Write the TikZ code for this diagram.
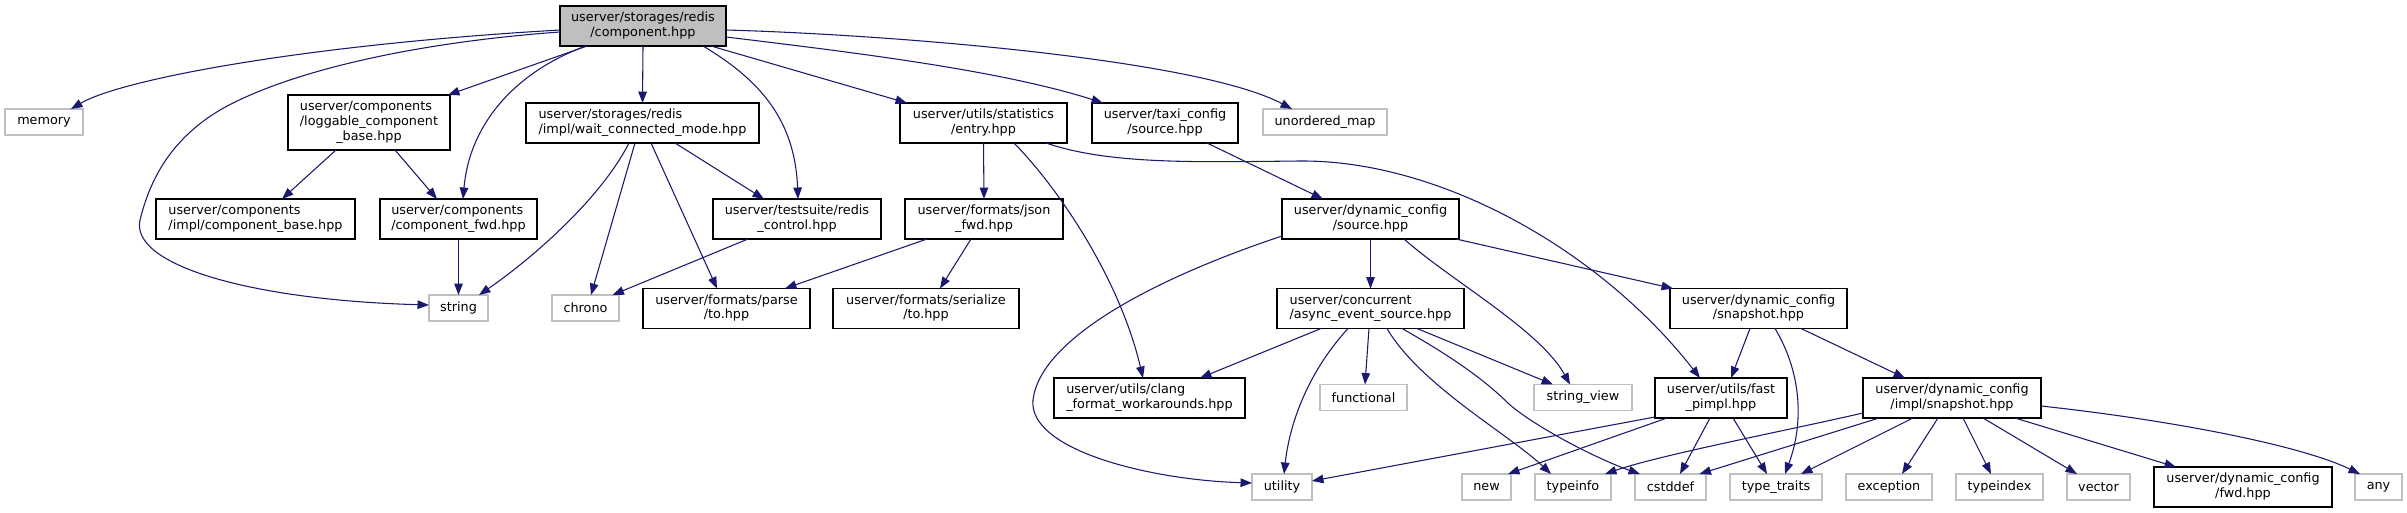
\documentclass[tikz,border=0pt]{standalone}
\usepackage{fontspec}
\setmainfont{DejaVu Sans}
\usetikzlibrary{arrows.meta,calc}
\definecolor{edgecol}{HTML}{191970}
\definecolor{rootfill}{HTML}{BFBFBF}
\definecolor{extline}{HTML}{BFBFBF}
\newcommand{\twol}[2]{\begin{tabular}{@{}l@{}}#1\\\multicolumn{1}{@{}c@{}}{#2}\end{tabular}}
\newcommand{\threel}[3]{\begin{tabular}{@{}l@{}}#1\\#2\\\multicolumn{1}{@{}c@{}}{#3}\end{tabular}}
\begin{document}
\begin{tikzpicture}[x=0.75pt,y=-0.75pt,
  boxsize/.style 2 args={minimum width=#1*0.75pt, minimum height=#2*0.75pt},
  base/.style={inner sep=0pt, outer sep=0pt, font=\fontsize{9.6}{11.2}\selectfont, line width=0.9pt},
  doc/.style={base, draw=black, fill=white},
  root/.style={base, draw=black, fill=rootfill},
  ext/.style={base, draw=extline, fill=white},
  dep/.style={draw=edgecol, line width=0.8pt, -{Triangle[length=8.6pt,width=6.4pt]}}]
\fill[white] (0,0) rectangle (2407,513);
\useasboundingbox (0,0) rectangle (2407,513);
% row 1
\node[root, boxsize={166}{40}] (A) at (643,26) {\twol{userver/storages/redis}{/component.hpp}};
% row 2
\node[ext, boxsize={78}{26}] (mem) at (44,122) {memory};
\node[doc, boxsize={162}{55}] (logg) at (369,122.5) {\threel{userver/components}{/loggable\_component}{\_base.hpp}};
\node[doc, boxsize={233}{40}] (wait) at (642.5,123) {\twol{userver/storages/redis}{/impl/wait\_connected\_mode.hpp}};
\node[doc, boxsize={167}{40}] (entry) at (983.5,123) {\twol{userver/utils/statistics}{/entry.hpp}};
\node[doc, boxsize={146}{40}] (taxi) at (1165,123) {\twol{userver/taxi\_config}{/source.hpp}};
\node[ext, boxsize={124}{26}] (umap) at (1325,122) {unordered\_map};
% row 3
\node[doc, boxsize={199}{40}] (cbase) at (255.5,219) {\twol{userver/components}{/impl/component\_base.hpp}};
\node[doc, boxsize={157}{40}] (cfwd) at (458.5,219) {\twol{userver/components}{/component\_fwd.hpp}};
\node[doc, boxsize={168}{40}] (rctl) at (797,219) {\twol{userver/testsuite/redis}{\_control.hpp}};
\node[doc, boxsize={158}{40}] (json) at (984,219) {\twol{userver/formats/json}{\_fwd.hpp}};
\node[doc, boxsize={177}{40}] (dsrc) at (1370.5,219) {\twol{userver/dynamic\_config}{/source.hpp}};
% row 4
\node[ext, boxsize={59}{26}] (string) at (458.5,308) {string};
\node[ext, boxsize={67}{26}] (chrono) at (585.5,308) {chrono};
\node[doc, boxsize={167}{40}] (parse) at (726.5,308.5) {\twol{userver/formats/parse}{/to.hpp}};
\node[doc, boxsize={186}{40}] (ser) at (926,308.5) {\twol{userver/formats/serialize}{/to.hpp}};
\node[doc, boxsize={187}{40}] (async) at (1370.5,308.5) {\twol{userver/concurrent}{/async\_event\_source.hpp}};
\node[doc, boxsize={177}{40}] (snap) at (1758.5,308.5) {\twol{userver/dynamic\_config}{/snapshot.hpp}};
% row 5
\node[doc, boxsize={191}{40}] (clang) at (1149.5,398) {\twol{userver/utils/clang}{\_format\_workarounds.hpp}};
\node[ext, boxsize={87}{26}] (func) at (1363.5,397.5) {functional};
\node[ext, boxsize={98}{26}] (sview) at (1583,397.5) {string\_view};
\node[doc, boxsize={132}{40}] (pimpl) at (1721,398) {\twol{userver/utils/fast}{\_pimpl.hpp}};
\node[doc, boxsize={178}{40}] (isnap) at (1952,398) {\twol{userver/dynamic\_config}{/impl/snapshot.hpp}};
% row 6
\node[ext, boxsize={60}{26}] (utility) at (1282,487) {utility};
\node[ext, boxsize={49}{26}] (new) at (1486.5,487) {new};
\node[ext, boxsize={76}{26}] (typeinfo) at (1573,487) {typeinfo};
\node[ext, boxsize={71}{26}] (cstddef) at (1670.5,487) {cstddef};
\node[ext, boxsize={92}{26}] (ttraits) at (1776,487) {type\_traits};
\node[ext, boxsize={86}{26}] (exception) at (1889,487) {exception};
\node[ext, boxsize={87}{26}] (typeindex) at (1999.5,487) {typeindex};
\node[ext, boxsize={63}{26}] (vector) at (2098.5,487) {vector};
\node[doc, boxsize={178}{40}] (fwd) at (2243,487) {\twol{userver/dynamic\_config}{/fwd.hpp}};
\node[ext, boxsize={47}{26}] (any) at (2378.5,487) {any};
% edges from root
\draw[dep] ($(A.west)+(0,4)$) .. controls (300,45) and (120,80) .. ($(mem.north)+(27,0)$);
\draw[dep] ($(A.west)+(0,6)$) .. controls (420,42) and (290,70) .. (220,110) .. controls (170,140) and (150,180) .. (140,220) .. controls (130,265) and (250,300) .. ($(string.west)+(0,-3)$);
\draw[dep] ($(A.south)+(-56,0)$) -- ($(logg.north)+(79,0)$);
\draw[dep] ($(A.south)+(-57,0)$) .. controls (520,70) and (470,120) .. ($(cfwd.north)+(4.5,0)$);
\draw[dep] (A.south) -- (wait.north);
\draw[dep] ($(A.south)+(60,0)$) .. controls (760,80) and (795,120) .. ($(rctl.north)+(1,0)$);
\draw[dep] ($(A.south)+(68,0)$) -- ($(entry.north)+(-76.5,0)$);
\draw[dep] ($(A.east)+(0,11)$) .. controls (850,52) and (1000,70) .. ($(taxi.north)+(-62,0)$);
\draw[dep] ($(A.east)+(0,4)$) .. controls (900,35) and (1200,60) .. ($(umap.north)+(-33,0)$);
% loggable
\draw[dep] ($(logg.south)+(-33,0)$) -- ($(cbase.north)+(26.5,0)$);
\draw[dep] ($(logg.south)+(26,0)$) -- ($(cfwd.north)+(-21.5,0)$);
\draw[dep] (cfwd.south) -- (string.north);
% wait_connected_mode
\draw[dep] ($(wait.south)+(-13.5,0)$) .. controls (600,200) and (530,260) .. ($(string.north)+(20.5,0)$);
\draw[dep] ($(wait.south)+(-7.5,0)$) -- ($(chrono.north)+(5.5,0)$);
\draw[dep] ($(wait.south)+(8.5,0)$) -- ($(parse.north)+(-9.5,0)$);
\draw[dep] ($(wait.south)+(32.5,0)$) -- ($(rctl.north)+(-33,0)$);
\draw[dep] ($(rctl.south)+(-49,0)$) -- ($(chrono.north)+(27,0)$);
% entry
\draw[dep] (entry.south) -- (json.north);
\draw[dep] ($(entry.south)+(30.5,0)$) .. controls (1060,190) and (1120,280) .. ($(clang.north)+(-6.5,0)$);
\draw[dep] ($(entry.south)+(62.5,0)$) .. controls (1110,165) and (1200,162) .. (1300,161) .. controls (1440,160) and (1600,250) .. ($(pimpl.north)+(-21,0)$);
% taxi, json
\draw[dep] ($(taxi.south)+(42,0)$) -- ($(dsrc.north)+(-47.5,0)$);
\draw[dep] ($(json.south)+(-57,0)$) -- ($(parse.north)+(58.5,0)$);
\draw[dep] ($(json.south)+(-13,0)$) -- ($(ser.north)+(14,0)$);
% dynamic_config/source
\draw[dep] ($(dsrc.west)+(0,17)$) .. controls (1150,280) and (1040,340) .. (1033,400) .. controls (1028,450) and (1150,480) .. ($(utility.west)+(0,-4)$);
\draw[dep] (dsrc.south) -- (async.north);
\draw[dep] ($(dsrc.south)+(33.5,0)$) .. controls (1450,280) and (1540,330) .. ($(sview.north)+(-13,0)$);
\draw[dep] ($(dsrc.south east)+(-3,0)$) -- ($(snap.north west)+(3,0)$);
% async_event_source
\draw[dep] ($(async.south)+(-49.5,0)$) -- ($(clang.north)+(50.5,0)$);
\draw[dep] ($(async.south)+(-22.5,0)$) .. controls (1310,370) and (1290,420) .. ($(utility.north)+(2,0)$);
\draw[dep] ($(async.south)+(-1.5,0)$) -- ($(func.north)+(1.5,0)$);
\draw[dep] ($(async.south)+(16.5,0)$) .. controls (1420,385) and (1510,435) .. ($(typeinfo.north)+(-22,0)$);
\draw[dep] ($(async.south)+(31.5,0)$) .. controls (1440,350) and (1480,375) .. (1510,405) .. controls (1540,430) and (1600,460) .. ($(cstddef.north)+(-30.5,0)$);
\draw[dep] ($(async.south)+(46.5,0)$) -- ($(sview.north)+(-30,0)$);
% snapshot
\draw[dep] ($(snap.south)+(-8.5,0)$) -- ($(pimpl.north)+(10,0)$);
\draw[dep] ($(snap.south)+(16.5,0)$) .. controls (1800,370) and (1805,420) .. ($(ttraits.north)+(9,0)$);
\draw[dep] ($(snap.south)+(42.5,0)$) -- ($(isnap.north)+(-47,0)$);
% fast_pimpl
\draw[dep] ($(pimpl.south west)+(0,-1)$) -- ($(utility.east)+(0,-6)$);
\draw[dep] ($(pimpl.south)+(-54,0)$) -- ($(new.north)+(21.5,0)$);
\draw[dep] ($(pimpl.south)+(-11,0)$) -- ($(cstddef.north)+(9.5,0)$);
\draw[dep] ($(pimpl.south)+(12,0)$) -- ($(ttraits.north)+(-9,0)$);
% impl/snapshot
\draw[dep] ($(isnap.south west)+(0,-5)$) .. controls (1780,432) and (1660,455) .. ($(typeinfo.north)+(32,0)$);
\draw[dep] ($(isnap.south)+(-73,0)$) -- ($(cstddef.north)+(29,0)$);
\draw[dep] ($(isnap.south)+(-39,0)$) -- ($(ttraits.north)+(25,0)$);
\draw[dep] ($(isnap.south)+(-14,0)$) -- ($(exception.north)+(13,0)$);
\draw[dep] ($(isnap.south)+(11,0)$) -- ($(typeindex.north)+(-8.5,0)$);
\draw[dep] ($(isnap.south)+(31,0)$) -- ($(vector.north)+(-21.5,0)$);
\draw[dep] ($(isnap.south)+(63,0)$) -- ($(fwd.north)+(-67,0)$);
\draw[dep] ($(isnap.east)+(0,8)$) .. controls (2170,420) and (2300,445) .. ($(any.north)+(-18.5,0)$);
\end{tikzpicture}
\end{document}
